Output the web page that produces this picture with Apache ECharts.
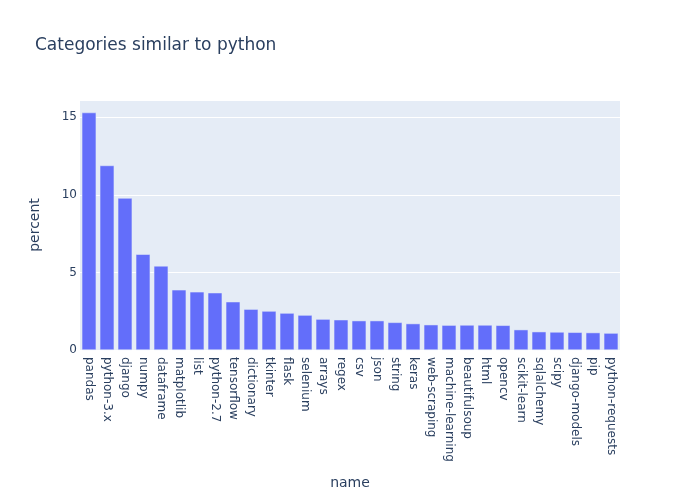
<!DOCTYPE html>
<html><head><meta charset="utf-8">
<script src="https://cdn.jsdelivr.net/npm/echarts@6/dist/echarts.min.js"></script>
<style>html,body{margin:0;padding:0;background:#fff}#c{width:700px;height:500px}</style>
</head><body><div id="c"></div>
<script>
const categories = ["pandas","python-3.x","django","numpy","dataframe","matplotlib","list","python-2.7","tensorflow","dictionary","tkinter","flask","selenium","arrays","regex","csv","json","string","keras","web-scraping","machine-learning","beautifulsoup","html","opencv","scikit-learn","sqlalchemy","scipy","django-models","pip","python-requests"];
const percent = [15.3,11.89,9.79,6.17,5.42,3.88,3.75,3.69,3.11,2.63,2.51,2.38,2.25,1.99,1.95,1.89,1.89,1.78,1.70,1.63,1.60,1.61,1.61,1.59,1.31,1.18,1.16,1.14,1.12,1.09];
const yTicks = [0,5,10,15];
const font = '"DejaVu Sans", verdana, arial, sans-serif';
const txt = '#2a3f5f';
const chart = echarts.init(document.getElementById('c'), null, {renderer:'canvas'});
chart.setOption({
  backgroundColor:'#fff',
  animation:false,
  title:{text:'Categories similar to python',left:30,top:32,textStyle:{fontFamily:font,fontSize:17,fontWeight:'normal',color:txt}},
  grid:{left:80,right:80,top:100,bottom:150,show:true,backgroundColor:'#E5ECF6',borderWidth:0},
  xAxis:{type:'category',data:categories,name:'name',nameLocation:'middle',nameGap:126,
    nameTextStyle:{fontFamily:font,fontSize:14,color:txt},
    axisLine:{show:false},axisTick:{show:false},
    axisLabel:{rotate:-90,interval:0,margin:7,fontFamily:font,fontSize:12,color:txt}},
  yAxis:{type:'value',min:0,max:16.11,interval:5,name:'percent',nameLocation:'middle',nameGap:38,
    nameTextStyle:{fontFamily:font,fontSize:14,color:txt},
    axisLine:{show:false},axisTick:{show:false},
    axisLabel:{margin:3,fontFamily:font,fontSize:12,color:txt,
      formatter:v=>yTicks.includes(v)?String(v):''},
    splitLine:{lineStyle:{color:'#fff',width:1}}},
  series:[{type:'bar',data:percent,barCategoryGap:'20%',
    itemStyle:{color:'#636efa',borderColor:'#E5ECF6',borderWidth:0.5}}]
});
</script></body></html>
